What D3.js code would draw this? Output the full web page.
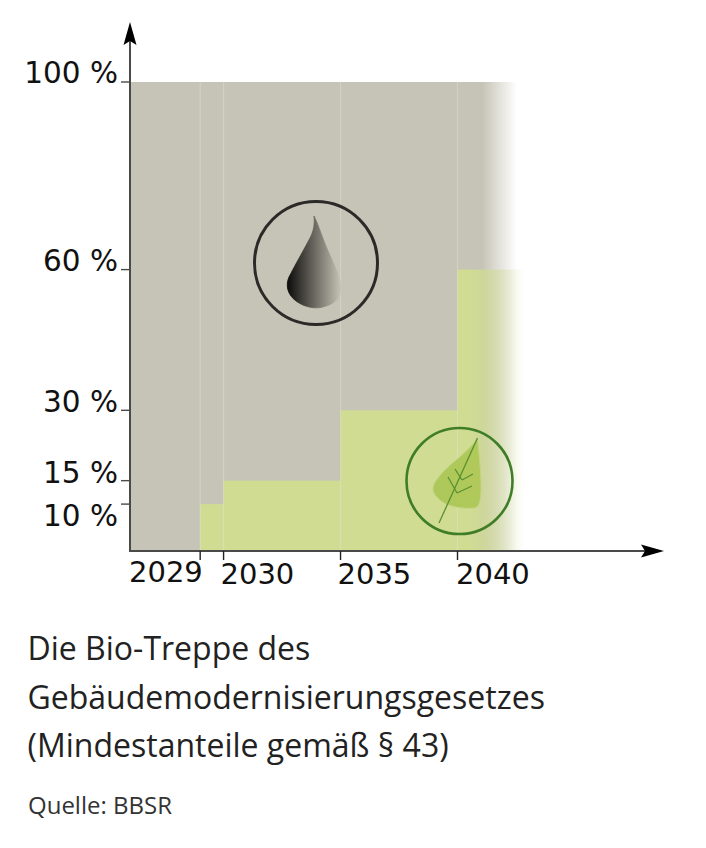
<!DOCTYPE html>
<html><head><meta charset="utf-8">
<script src="https://cdn.jsdelivr.net/npm/d3@7"></script>
<style>html,body{margin:0;padding:0;background:#fff}svg{display:block}</style>
</head><body><svg id="c" width="706" height="848"></svg>
<script>
const stepYears = [2029, 2030, 2035, 2040];
const stepShares = [10, 15, 30, 60];
const yTickValues = [100, 60, 30, 15, 10];
const startYear = 2026;
const fadeEndGrey = 2042.55;
const fadeEndGreen = 2042.85;
const titleLines = ["Die Bio-Treppe des", "Gebäudemodernisierungsgesetzes", "(Mindestanteile gemäß § 43)"];
const sourceText = "Quelle: BBSR";

const svg = d3.select("#c");
const x = d3.scaleLinear().domain([startYear, 2040]).range([130, 457.5]);
const y = d3.scaleLinear().domain([0, 100]).range([551, 82]);
const font = "'DejaVu Sans'";
const defs = svg.append("defs");

function fade(id, from, to, color, stops) {
  const g = defs.append("linearGradient").attr("id", id).attr("gradientUnits", "userSpaceOnUse")
    .attr("x1", from).attr("x2", to).attr("y1", 0).attr("y2", 0);
  stops.forEach(s => g.append("stop").attr("offset", s[0]).attr("stop-color", color).attr("stop-opacity", s[1]));
}
const gx = x(startYear);
fade("greyFade", gx, x(fadeEndGrey), "#c6c4b6", [[0,1],[(482-gx)/(x(fadeEndGrey)-gx),1],[1,0]]);
fade("greenFade", gx, x(fadeEndGreen), "#d0dc92", [[0,1],[(470-gx)/(x(fadeEndGreen)-gx),1],[1,0]]);

const dropG = defs.append("linearGradient").attr("id", "dropFill");
dropG.append("stop").attr("offset", 0).attr("stop-color", "#0c0b0a");
dropG.append("stop").attr("offset", 1).attr("stop-color", "#c6c4b6");
const leafG = defs.append("linearGradient").attr("id", "leafFill");
leafG.append("stop").attr("offset", 0).attr("stop-color", "#aec75a");
leafG.append("stop").attr("offset", 1).attr("stop-color", "#b0c95a");

svg.append("rect").attr("x", x(startYear)).attr("y", y(100))
  .attr("width", x(fadeEndGrey) - x(startYear)).attr("height", y(0) - y(100))
  .attr("fill", "url(#greyFade)");

const nextYears = stepYears.slice(1).concat([fadeEndGreen]);
svg.append("g").selectAll("rect").data(stepYears).join("rect")
  .attr("x", d => x(d))
  .attr("y", (d, i) => y(stepShares[i]))
  .attr("width", (d, i) => x(nextYears[i]) - x(d))
  .attr("height", (d, i) => y(0) - y(stepShares[i]))
  .attr("fill", "url(#greenFade)");

svg.append("g").selectAll("line").data(stepYears).join("line")
  .attr("x1", d => x(d)).attr("x2", d => x(d))
  .attr("y1", y(100)).attr("y2", y(0))
  .attr("stroke", "#fff").attr("stroke-opacity", 0.22).attr("stroke-width", 1.2);

const axisColor = "#4a4a48";
svg.append("line").attr("x1", 130).attr("x2", 130).attr("y1", 551).attr("y2", 36).attr("stroke", axisColor).attr("stroke-width", 2);
svg.append("line").attr("x1", 129).attr("x2", 648).attr("y1", 551).attr("y2", 551).attr("stroke", axisColor).attr("stroke-width", 2);
svg.append("path").attr("d", "M130,22 L136.5,45 L130,41 L123.5,45 Z").attr("fill", "#000");
svg.append("path").attr("d", "M664,551 L641,544.5 L645,551 L641,557.5 Z").attr("fill", "#000");

svg.append("g").selectAll("line").data(yTickValues).join("line")
  .attr("x1", 121).attr("x2", 130)
  .attr("y1", d => y(d)).attr("y2", d => y(d))
  .attr("stroke", axisColor).attr("stroke-width", 1.4);
const yLabelBase = new Map([[100, 83], [60, 271], [30, 412], [15, 483], [10, 526]]);
svg.append("g").selectAll("text").data(yTickValues).join("text")
  .attr("x", 118).attr("y", d => yLabelBase.get(d))
  .attr("text-anchor", "end").attr("font-family", font).attr("font-size", 29.5).attr("fill", "#111")
  .text(d => d + " %");

svg.append("g").selectAll("line").data(stepYears).join("line")
  .attr("x1", d => x(d)).attr("x2", d => x(d)).attr("y1", 551).attr("y2", 560)
  .attr("stroke", "#222").attr("stroke-width", 1.4);
const xLabelPos = new Map([[2029, [129, 582]], [2030, [220.5, 584]], [2035, [337.5, 584]], [2040, [456, 584]]]);
svg.append("g").selectAll("text").data(stepYears).join("text")
  .attr("x", d => xLabelPos.get(d)[0]).attr("y", d => xLabelPos.get(d)[1])
  .attr("font-family", font).attr("font-size", 29).attr("fill", "#111")
  .text(d => d);

const oil = svg.append("g");
oil.append("circle").attr("cx", 316).attr("cy", 263).attr("r", 61.5).attr("fill", "none").attr("stroke", "#2b2a28").attr("stroke-width", 3);
oil.append("path").attr("d", "M314,216 C314.5,222 314.5,228 311,236 C305,248 296,263 289,277 C285,286 288,295 296,301 C304,307 316,310 326,306 C336,303 341,297 341,288 C341,279 335,267 329,253 C323,240 319,226 314,216 Z")
  .attr("fill", "url(#dropFill)").attr("stroke", "url(#dropFill)").attr("stroke-width", 0.8);

const leaf = svg.append("g");
leaf.append("circle").attr("cx", 459.5).attr("cy", 481).attr("r", 53).attr("fill", "none").attr("stroke", "#3f7d26").attr("stroke-width", 2.6);
leaf.append("path").attr("d", "M477.5,438 C470,450 455,460 445,470 C438,477 432,485 433,490 C434,495 438,499 444,503 C451,507 464,509 475,508 C481,506 481,495 481,486 C481,472 479,452 477.5,438 Z")
  .attr("fill", "url(#leafFill)").attr("stroke", "#c2d684").attr("stroke-width", 1);
const veins = ["M477.500,438 L439,523", "M448,477 L457,493", "M457,493 L472,486", "M455,469 L462,480", "M462,480 L473,474"];
leaf.selectAll(".v").data(veins).join("path").attr("class", "v").attr("d", d => d)
  .attr("fill", "none").attr("stroke", "#5a9030").attr("stroke-width", 1.3);

svg.append("g").selectAll("text").data(titleLines).join("text")
  .attr("x", 27.5).attr("y", (d, i) => 660 + i * 48.5)
  .attr("font-family", "'Open Sans'").attr("font-size", 32).attr("fill", "#222")
  .text(d => d);
svg.append("text").attr("x", 28).attr("y", 814)
  .attr("font-family", "'Open Sans'").attr("font-size", 24).attr("fill", "#333").text(sourceText);
</script></body></html>
